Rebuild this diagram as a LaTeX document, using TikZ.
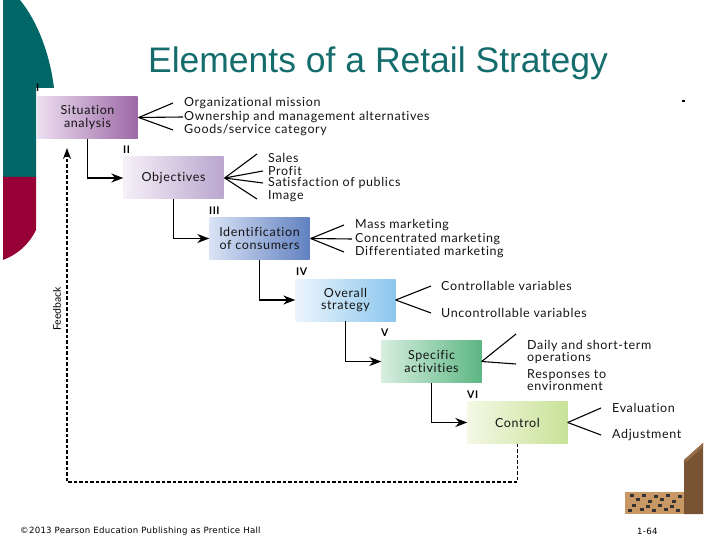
\documentclass[tikz,border=0pt]{standalone}
\usepackage{fontspec}
\setmainfont{Liberation Sans}
\newfontfamily\gill[LetterSpace=5,Ligatures=NoCommon]{Lato}
\newfontfamily\gillplain[Ligatures=NoCommon]{Lato}
\newfontfamily\footfont[LetterSpace=3]{DejaVu Sans}
\usetikzlibrary{arrows.meta}
\definecolor{titleteal}{RGB}{20,108,108}
\definecolor{sideteal}{RGB}{0,102,102}
\definecolor{crimson}{RGB}{150,0,52}
\tikzset{
  box/.style={minimum width=100pt,minimum height=42pt,inner sep=0pt,align=center,
    font=\gill\fontsize{12.5}{12.5}\selectfont,text=black!92},
  item/.style={anchor=west,inner sep=0pt,font=\gill\fontsize{12.5}{12.5}\selectfont,text=black!92,align=left},
  roman/.style={anchor=south west,inner sep=0pt,font=\gill\bfseries\fontsize{10.5}{10.5}\selectfont},
  flow/.style={line width=1.3pt,-{Stealth[length=12pt,width=9pt]}},
  fan/.style={line width=1.1pt},
  fb/.style={line width=1.7pt,dash pattern=on 3.5pt off 2pt,-{Stealth[length=11pt,width=8pt]}}
}
\begin{document}
\begin{tikzpicture}[x=1pt,y=-1pt]
\useasboundingbox (0,0) rectangle (720,540);
% side decoration
\fill[sideteal] (3,0) -- (20,0) .. controls (38,22) and (50,55) .. (54,88) -- (36,88) -- (36,177) -- (3,177) -- cycle;
\fill[crimson] (3,177) -- (36,177) -- (36,230) .. controls (28,246) and (16,255) .. (3,260) -- cycle;
% title
\node[font=\fontsize{35.5}{38}\selectfont,text=titleteal] (title) at (378,63) {Elements of a Retail Strategy};
\fill (682,100) rectangle (685,102);
% boxes
\node[box,left color={rgb,255:red,236;green,222;blue,240},right color={rgb,255:red,156;green,104;blue,166}] (b1) at (87.5,117.5) {Situation\\analysis};
\node[box,left color={rgb,255:red,245;green,240;blue,248},right color={rgb,255:red,186;green,166;blue,206}] (b2) at (173.5,178) {Objectives};
\node[box,left color={rgb,255:red,218;green,228;blue,246},right color={rgb,255:red,96;green,128;blue,192}] (b3) at (259.5,238.5) {Identification\\of consumers};
\node[box,left color={rgb,255:red,236;green,245;blue,252},right color={rgb,255:red,140;green,198;blue,238}] (b4) at (345.5,300) {Overall\\strategy};
\node[box,left color={rgb,255:red,214;green,238;blue,222},right color={rgb,255:red,92;green,182;blue,132}] (b5) at (431.5,361.5) {Specific\\activities};
\node[box,left color={rgb,255:red,244;green,248;blue,228},right color={rgb,255:red,200;green,226;blue,152}] (b6) at (517.5,422.5) {Control};
% roman numerals
\node[roman] (r1) at (36,92) {I};
\node[roman] (r2) at (123,154) {II};
\node[roman] (r3) at (209,215) {III};
\node[roman] (r4) at (296,276) {IV};
\node[roman] (r5) at (381,337) {V};
\node[roman] (r6) at (467,399) {VI};
% flow arrows
\draw[flow] (b1.south) |- (b2.west);
\draw[flow] (b2.south) |- (b3.west);
\draw[flow] (b3.south) |- (b4.west);
\draw[flow] (b4.south) |- (b5.west);
\draw[flow] (b5.south) |- (b6.west);
% feedback
\coordinate (fc) at (67,482);
\coordinate (fe) at (67,148);
\draw[fb] (b6.south) |- (fc) -- (fe);
\node[rotate=90,inner sep=0pt,font=\gillplain\fontsize{10.5}{10.5}\selectfont] (fbl) at (57,309) {Feedback};
% items box 1
\coordinate (a1) at ([xshift=1pt]b1.east);
\node[item] (i11) at (184,103) {Organizational mission};
\node[item] (i12) at (184,117) {Ownership and management alternatives};
\node[item] (i13) at (184,130) {Goods/service category};
\draw[fan] (a1) -- ([xshift=-11pt]i11.west);
\draw[fan] (a1) -- ([xshift=-1pt]i12.west);
\draw[fan] (a1) -- ([xshift=-11pt]i13.west);
% items box 2
\coordinate (a2) at ([xshift=1pt]b2.east);
\node[item] (i21) at (268,158) {Sales};
\node[item] (i22) at (268,171) {Profit};
\node[item] (i23) at (268,183) {Satisfaction of publics};
\node[item] (i24) at (268,196) {Image};
\draw[fan] (a2) -- ([xshift=-11pt,yshift=4pt]i21.west);
\draw[fan] (a2) -- ([xshift=-5pt]i22.west);
\draw[fan] (a2) -- ([xshift=-5pt]i23.west);
\draw[fan] (a2) -- ([xshift=-11pt,yshift=-3pt]i24.west);
% items box 3
\coordinate (a3) at ([xshift=1pt]b3.east);
\node[item] (i31) at (355,225) {Mass marketing};
\node[item] (i32) at (355,239) {Concentrated marketing};
\node[item] (i33) at (355,252) {Differentiated marketing};
\draw[fan] (a3) -- ([xshift=-11pt]i31.west);
\draw[fan] (a3) -- ([xshift=-3pt]i32.west);
\draw[fan] (a3) -- ([xshift=-11pt]i33.west);
% items box 4
\coordinate (a4) at ([xshift=0pt]b4.east);
\node[item] (i41) at (441,286) {Controllable variables};
\node[item] (i42) at (441,313) {Uncontrollable variables};
\draw[fan] (a4) -- ([xshift=-10pt]i41.west);
\draw[fan] (a4) -- ([xshift=-10pt]i42.west);
% items box 5
\coordinate (a5) at ([xshift=0pt]b5.east);
\node[item,anchor=north west] (i51) at (527,340) {Daily and short-term\\operations};
\node[item,anchor=north west] (i52) at (527,369) {Responses to\\environment};
\draw[fan] (a5) -- ([xshift=-11pt,yshift=6pt]i51.north west);
\draw[fan] (a5) -- ([xshift=-11pt,yshift=5pt]i52.north west);
% items box 6
\coordinate (a6) at ([xshift=0pt]b6.east);
\node[item] (i61) at (612,408) {Evaluation};
\node[item] (i62) at (612,435) {Adjustment};
\draw[fan] (a6) -- ([xshift=-11pt]i61.west);
\draw[fan] (a6) -- ([xshift=-11pt]i62.west);
% bottom-right decoration
\fill[color={rgb,255:red,200;green,152;blue,100}] (625,492) rectangle (684,514);
\foreach \px/\py in {630/494,636/498,642/494,648/500,654/495,660/498,666/494,672/500,678/495,632/504,640/508,646/505,652/509,658/504,664/508,670/505,676/509,628/509}
  \fill[black!80] (\px,\py) rectangle ++(4,3);
\fill[color={rgb,255:red,120;green,84;blue,52}] (684,460) -- (703,443) -- (703,514) -- (684,514) -- cycle;
\fill[color={rgb,255:red,150;green,108;blue,70}] (684,460) -- (703,443) -- (703,447) -- (686,462) -- cycle;
% footer
\node[anchor=west,inner sep=0pt,font=\footfont\fontsize{8.6}{9}\selectfont] (foot) at (20,531) {\textcopyright2013 Pearson Education Publishing as Prentice Hall};
\node[anchor=west,inner sep=0pt,font=\footfont\fontsize{8.6}{9}\selectfont] (page) at (637,531) {1-64};
\end{tikzpicture}
\end{document}
